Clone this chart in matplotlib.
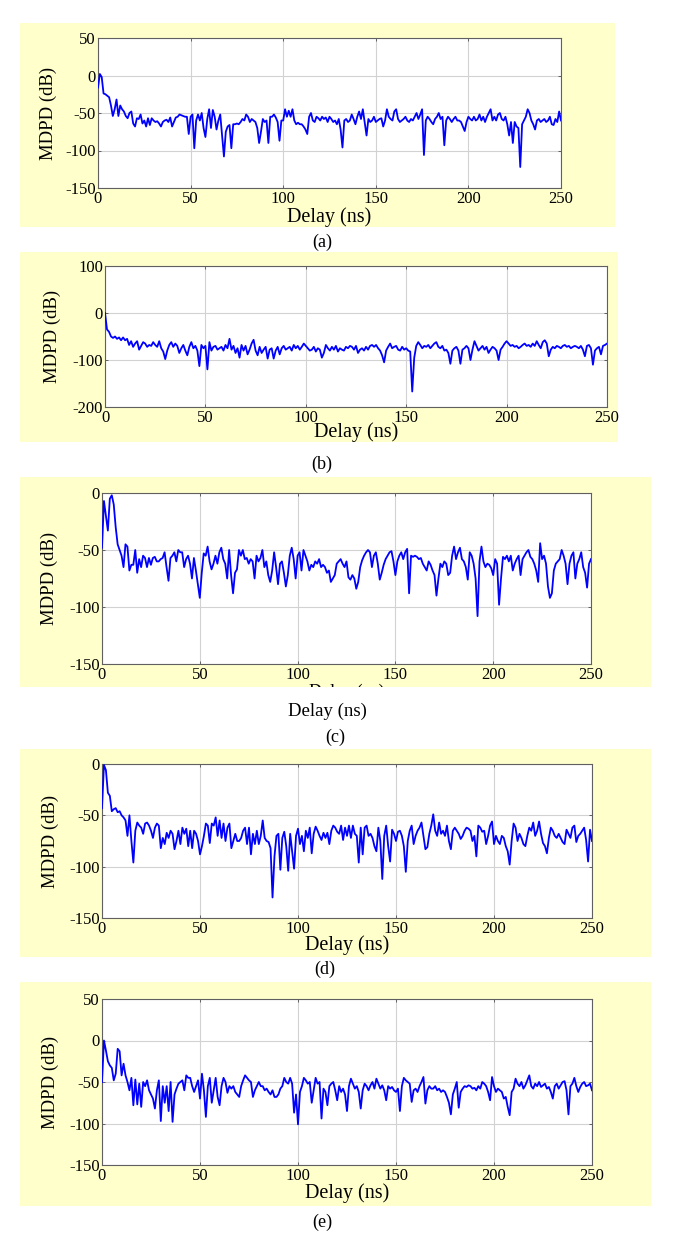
import matplotlib
matplotlib.use("Agg")
import matplotlib.pyplot as plt
from matplotlib.patches import Rectangle
from matplotlib.transforms import Bbox, TransformedBbox

plt.rcParams['font.family'] = ['Liberation Serif', 'DejaVu Serif']
plt.rcParams['axes.unicode_minus'] = False

delay_ns = list(range(0, 251))

mdpd_a = [
    -16, 2, -2, -24, -25, -27, -29, -40, -54, -45,
    -32, -54, -40, -45, -48, -54, -57, -50, -48, -64,
    -68, -57, -58, -52, -64, -60, -68, -57, -66, -57,
    -60, -62, -61, -64, -68, -62, -60, -59, -62, -56,
    -68, -62, -56, -55, -52, -53, -54, -55, -55, -78,
    -55, -52, -97, -60, -52, -60, -50, -70, -82, -58,
    -45, -70, -46, -55, -72, -60, -52, -80, -108, -75,
    -68, -66, -97, -65, -65, -64, -65, -62, -58, -60,
    -52, -55, -62, -58, -60, -62, -70, -90, -75, -58,
    -62, -60, -90, -55, -55, -52, -56, -62, -87, -60,
    -60, -45, -55, -47, -55, -45, -60, -65, -63, -65,
    -65, -68, -72, -78, -55, -50, -60, -62, -55, -57,
    -60, -55, -58, -56, -62, -55, -58, -62, -60, -65,
    -58, -72, -96, -60, -58, -62, -60, -52, -58, -65,
    -55, -48, -58, -45, -62, -80, -58, -62, -60, -55,
    -62, -60, -58, -57, -68, -60, -45, -55, -58, -60,
    -48, -45, -58, -62, -60, -58, -55, -60, -62, -58,
    -60, -55, -50, -58, -52, -45, -106, -60, -55, -58,
    -62, -65, -58, -55, -50, -58, -55, -93, -60, -55,
    -58, -62, -58, -55, -60, -60, -62, -68, -74, -62,
    -55, -58, -60, -55, -60, -58, -52, -60, -55, -62,
    -55, -50, -45, -60, -55, -60, -52, -50, -58, -60,
    -55, -65, -80, -62, -90, -62, -68, -70, -122, -65,
    -60, -55, -45, -50, -60, -65, -72, -60, -58, -62,
    -60, -58, -62, -60, -55, -65, -66, -58, -62, -48,
    -60,
]

mdpd_b = [
    0, -35, -40, -50, -53, -50, -55, -52, -58, -52,
    -58, -55, -68, -60, -72, -65, -60, -78, -70, -62,
    -65, -72, -68, -70, -62, -68, -72, -60, -75, -82,
    -98, -80, -68, -62, -72, -65, -70, -85, -75, -68,
    -80, -90, -72, -62, -75, -70, -80, -113, -68, -75,
    -70, -120, -62, -80, -72, -70, -78, -75, -72, -80,
    -68, -75, -55, -78, -70, -85, -75, -95, -68, -80,
    -70, -88, -78, -65, -57, -80, -90, -72, -85, -78,
    -72, -97, -78, -75, -97, -80, -72, -88, -75, -70,
    -78, -75, -72, -80, -68, -75, -70, -78, -72, -65,
    -70, -75, -80, -78, -72, -82, -75, -78, -95, -85,
    -68, -75, -80, -72, -78, -70, -82, -75, -78, -80,
    -72, -75, -70, -72, -78, -70, -85, -78, -75, -80,
    -72, -78, -70, -68, -72, -68, -75, -80, -90, -105,
    -80, -72, -65, -75, -72, -70, -78, -80, -72, -78,
    -75, -80, -82, -167, -95, -70, -62, -68, -75, -70,
    -72, -68, -75, -70, -65, -62, -72, -75, -70, -80,
    -78, -85, -108, -80, -75, -72, -80, -108, -78, -75,
    -70, -75, -100, -78, -60, -70, -80, -75, -70, -78,
    -72, -85, -78, -72, -75, -80, -100, -78, -72, -65,
    -60, -65, -70, -68, -72, -70, -75, -72, -68, -65,
    -70, -68, -72, -65, -70, -60, -68, -75, -62, -58,
    -65, -92, -78, -72, -75, -70, -72, -75, -70, -68,
    -72, -70, -75, -72, -70, -72, -75, -70, -78, -92,
    -70, -68, -75, -110, -80, -75, -72, -88, -70, -68,
    -65,
]

mdpd_c = [
    -48, -7, -20, -33, -5, -2, -10, -30, -45, -50,
    -55, -65, -45, -47, -68, -63, -63, -50, -70, -58,
    -65, -55, -57, -65, -57, -63, -57, -56, -60, -60,
    -58, -57, -52, -65, -77, -57, -55, -52, -60, -50,
    -52, -52, -65, -58, -55, -62, -75, -57, -68, -80,
    -92, -70, -53, -55, -47, -60, -67, -62, -55, -62,
    -52, -48, -58, -62, -75, -50, -72, -88, -70, -67,
    -50, -55, -50, -58, -57, -62, -58, -60, -75, -55,
    -60, -57, -50, -65, -60, -72, -78, -68, -52, -65,
    -80, -62, -60, -70, -82, -72, -55, -48, -58, -75,
    -55, -52, -68, -50, -55, -60, -68, -63, -65, -60,
    -62, -58, -65, -63, -65, -70, -68, -78, -75, -72,
    -62, -60, -58, -62, -65, -60, -74, -76, -72, -75,
    -84, -78, -65, -59, -55, -52, -50, -52, -65, -55,
    -52, -62, -76, -70, -63, -58, -55, -52, -51, -60,
    -72, -60, -55, -52, -58, -52, -49, -88, -55, -56,
    -55, -56, -58, -57, -62, -65, -68, -60, -63, -68,
    -72, -90, -75, -62, -65, -60, -62, -72, -70, -55,
    -47, -58, -52, -48, -58, -60, -65, -76, -52, -55,
    -62, -75, -108, -60, -47, -60, -65, -62, -63, -66,
    -72, -58, -62, -98, -75, -56, -58, -55, -60, -55,
    -68, -62, -58, -55, -72, -58, -55, -52, -50, -56,
    -58, -62, -68, -78, -44, -58, -55, -62, -82, -92,
    -88, -68, -62, -60, -58, -50, -55, -62, -80, -62,
    -55, -52, -75, -62, -58, -52, -65, -70, -83, -62,
    -58,
]

mdpd_d = [
    -43, -1, -6, -28, -31, -46, -44, -43, -47, -46,
    -50, -52, -55, -70, -50, -75, -96, -65, -57, -60,
    -62, -68, -58, -57, -60, -65, -72, -62, -58, -60,
    -82, -72, -78, -67, -72, -65, -68, -83, -75, -65,
    -78, -62, -68, -63, -80, -65, -82, -65, -68, -75,
    -88, -80, -70, -58, -60, -77, -58, -60, -52, -70,
    -55, -72, -58, -75, -62, -58, -82, -75, -68, -75,
    -75, -72, -65, -62, -78, -62, -88, -68, -78, -65,
    -78, -70, -55, -72, -75, -76, -82, -130, -90, -70,
    -68, -103, -72, -66, -80, -104, -68, -85, -102, -70,
    -63, -78, -70, -85, -65, -72, -62, -87, -68, -61,
    -65, -70, -74, -67, -72, -67, -78, -65, -60, -62,
    -66, -68, -60, -74, -62, -70, -60, -72, -60, -68,
    -70, -96, -62, -88, -62, -60, -70, -68, -72, -80,
    -85, -62, -75, -112, -70, -60, -80, -95, -64, -68,
    -75, -66, -65, -70, -80, -105, -75, -65, -60, -78,
    -70, -65, -62, -57, -70, -83, -81, -68, -60, -49,
    -65, -70, -57, -68, -65, -70, -60, -75, -83, -65,
    -62, -65, -68, -73, -70, -65, -62, -63, -65, -75,
    -70, -90, -60, -62, -66, -65, -78, -70, -60, -56,
    -78, -70, -75, -78, -70, -72, -80, -85, -98, -75,
    -58, -62, -75, -68, -72, -78, -80, -70, -62, -65,
    -57, -70, -65, -56, -68, -77, -80, -87, -72, -62,
    -65, -70, -72, -68, -72, -76, -78, -64, -68, -72,
    -62, -60, -76, -70, -68, -65, -62, -74, -95, -64,
    -75,
]

mdpd_e = [
    -50, 0, -12, -25, -30, -33, -48, -40, -10, -13,
    -42, -28, -42, -50, -60, -45, -78, -47, -77, -52,
    -80, -50, -55, -48, -60, -65, -70, -82, -60, -48,
    -97, -55, -75, -55, -85, -50, -98, -65, -58, -52,
    -50, -48, -60, -42, -45, -45, -55, -62, -55, -48,
    -70, -40, -60, -92, -55, -45, -75, -60, -45, -68,
    -78, -55, -45, -50, -63, -55, -58, -55, -62, -65,
    -68, -55, -48, -42, -45, -48, -50, -68, -60, -55,
    -50, -55, -55, -60, -58, -62, -65, -60, -68, -68,
    -65, -58, -55, -45, -50, -52, -45, -52, -87, -65,
    -101, -62, -55, -45, -48, -52, -50, -75, -60, -45,
    -52, -50, -94, -58, -62, -78, -55, -52, -50, -60,
    -72, -55, -62, -58, -65, -85, -55, -46, -52, -58,
    -55, -62, -82, -60, -52, -55, -60, -54, -50, -58,
    -46, -52, -58, -54, -60, -72, -55, -58, -56, -60,
    -62, -58, -85, -55, -45, -48, -50, -52, -74, -60,
    -58, -62, -55, -50, -44, -76, -60, -55, -58, -58,
    -55, -60, -58, -62, -60, -62, -68, -75, -89, -65,
    -58, -50, -81, -62, -58, -55, -56, -54, -55, -58,
    -57, -60, -55, -58, -50, -52, -55, -62, -72, -44,
    -55, -62, -58, -60, -62, -70, -68, -80, -90, -62,
    -58, -46, -52, -55, -50, -58, -54, -48, -42, -55,
    -58, -52, -55, -50, -56, -54, -52, -58, -56, -62,
    -70, -55, -52, -58, -54, -50, -49, -60, -89, -55,
    -52, -45, -55, -62, -56, -52, -50, -55, -54, -52,
    -60,
]

x_ticks = [0, 50, 100, 150, 200, 250]
y_ticks_a = [-150, -100, -50, 0, 50]
y_ticks_b = [-200, -100, 0, 100]
y_ticks_c = [-150, -100, -50, 0]
y_ticks_d = [-150, -100, -50, 0]
y_ticks_e = [-150, -100, -50, 0, 50]
captions = ['(a)', '(b)', '(c)', '(d)', '(e)']

for arr in (mdpd_a, mdpd_b, mdpd_c, mdpd_d, mdpd_e):
    assert len(arr) == len(delay_ns), len(arr)

W, H = 685, 1254
fig = plt.figure(figsize=(W / 100, H / 100), dpi=100)
fig.patch.set_facecolor('white')

YEL = '#ffffcc'


def frect(x0, y0, x1, y1):
    return [x0 / W, 1 - y1 / H, (x1 - x0) / W, (y1 - y0) / H]


# pixel layouts: axes (x0, ytop, x1, ybot), yellow box, label positions, caption
panels = [
    dict(data=mdpd_a, yt=y_ticks_a, ax=(98, 38, 561, 188), box=(20, 23, 615, 227),
         ylx=48, xly=217, cap=(322, 242)),
    dict(data=mdpd_b, yt=y_ticks_b, ax=(105, 266, 607, 407), box=(20, 252, 618, 442),
         ylx=52, xly=432, cap=(322, 464)),
    dict(data=mdpd_c, yt=y_ticks_c, ax=(102, 493, 591, 664), box=(20, 477, 651, 687),
         ylx=49, xly=692, cap=(335, 737)),
    dict(data=mdpd_d, yt=y_ticks_d, ax=(102, 764, 592, 918), box=(20, 749, 651, 957),
         ylx=50, xly=945, cap=(325, 969)),
    dict(data=mdpd_e, yt=y_ticks_e, ax=(102, 999, 592, 1165), box=(20, 982, 651, 1206),
         ylx=50, xly=1193, cap=(322, 1222)),
]

for i, p in enumerate(panels):
    bx0, by0, bx1, by1 = p['box']
    r = Rectangle((bx0 / W, 1 - by1 / H), (bx1 - bx0) / W, (by1 - by0) / H,
                  transform=fig.transFigure, facecolor=YEL, edgecolor='none', zorder=-5)
    fig.add_artist(r)

    x0, y0, x1, y1 = p['ax']
    ax = fig.add_axes(frect(x0, y0, x1, y1))
    ax.set_facecolor('white')
    ax.plot(delay_ns, p['data'], color='#0000ff', lw=1.3, zorder=3)
    ax.set_xlim(0, 250)
    ax.set_ylim(p['yt'][0], p['yt'][-1])
    ax.set_xticks(x_ticks)
    ax.set_yticks(p['yt'])
    ax.grid(True, color='#d2d2d2', lw=0.8, ls='-')
    ax.set_axisbelow(True)
    for s in ax.spines.values():
        s.set_color('#606060')
        s.set_linewidth(0.8)
    ax.tick_params(axis='both', direction='in', length=2.5, width=0.7,
                   color='#606060', top=True, right=True, labelsize=12)
    ax.tick_params(axis='x', pad=2.5)
    ax.tick_params(axis='y', pad=1.5)

    cx = (x0 + x1) / 2
    cy = (y0 + y1) / 2
    fig.text(p['ylx'] / W, 1 - cy / H, 'MDPD (dB)', rotation=90, ha='center',
             va='center', fontsize=13.5)
    if i == 2:
        t = fig.text(cx / W, 1 - p['xly'] / H, 'Delay (ns)', ha='center', va='center',
                     fontsize=13)
        clip = TransformedBbox(Bbox.from_extents(bx0 / W, 1 - by1 / H, bx1 / W, 1 - by0 / H),
                               fig.transFigure)
        t.set_clip_box(clip)
        t.set_clip_on(True)
        fig.text(327 / W, 1 - 711 / H, 'Delay (ns)', ha='center', va='center',
                 fontsize=13.5)
    else:
        fig.text(cx / W, 1 - p['xly'] / H, 'Delay (ns)', ha='center', va='center',
                 fontsize=14.5)
    fig.text(p['cap'][0] / W, 1 - p['cap'][1] / H, captions[i], ha='center',
             va='center', fontsize=13)

fig.savefig('out.png', dpi=100, facecolor='white')
